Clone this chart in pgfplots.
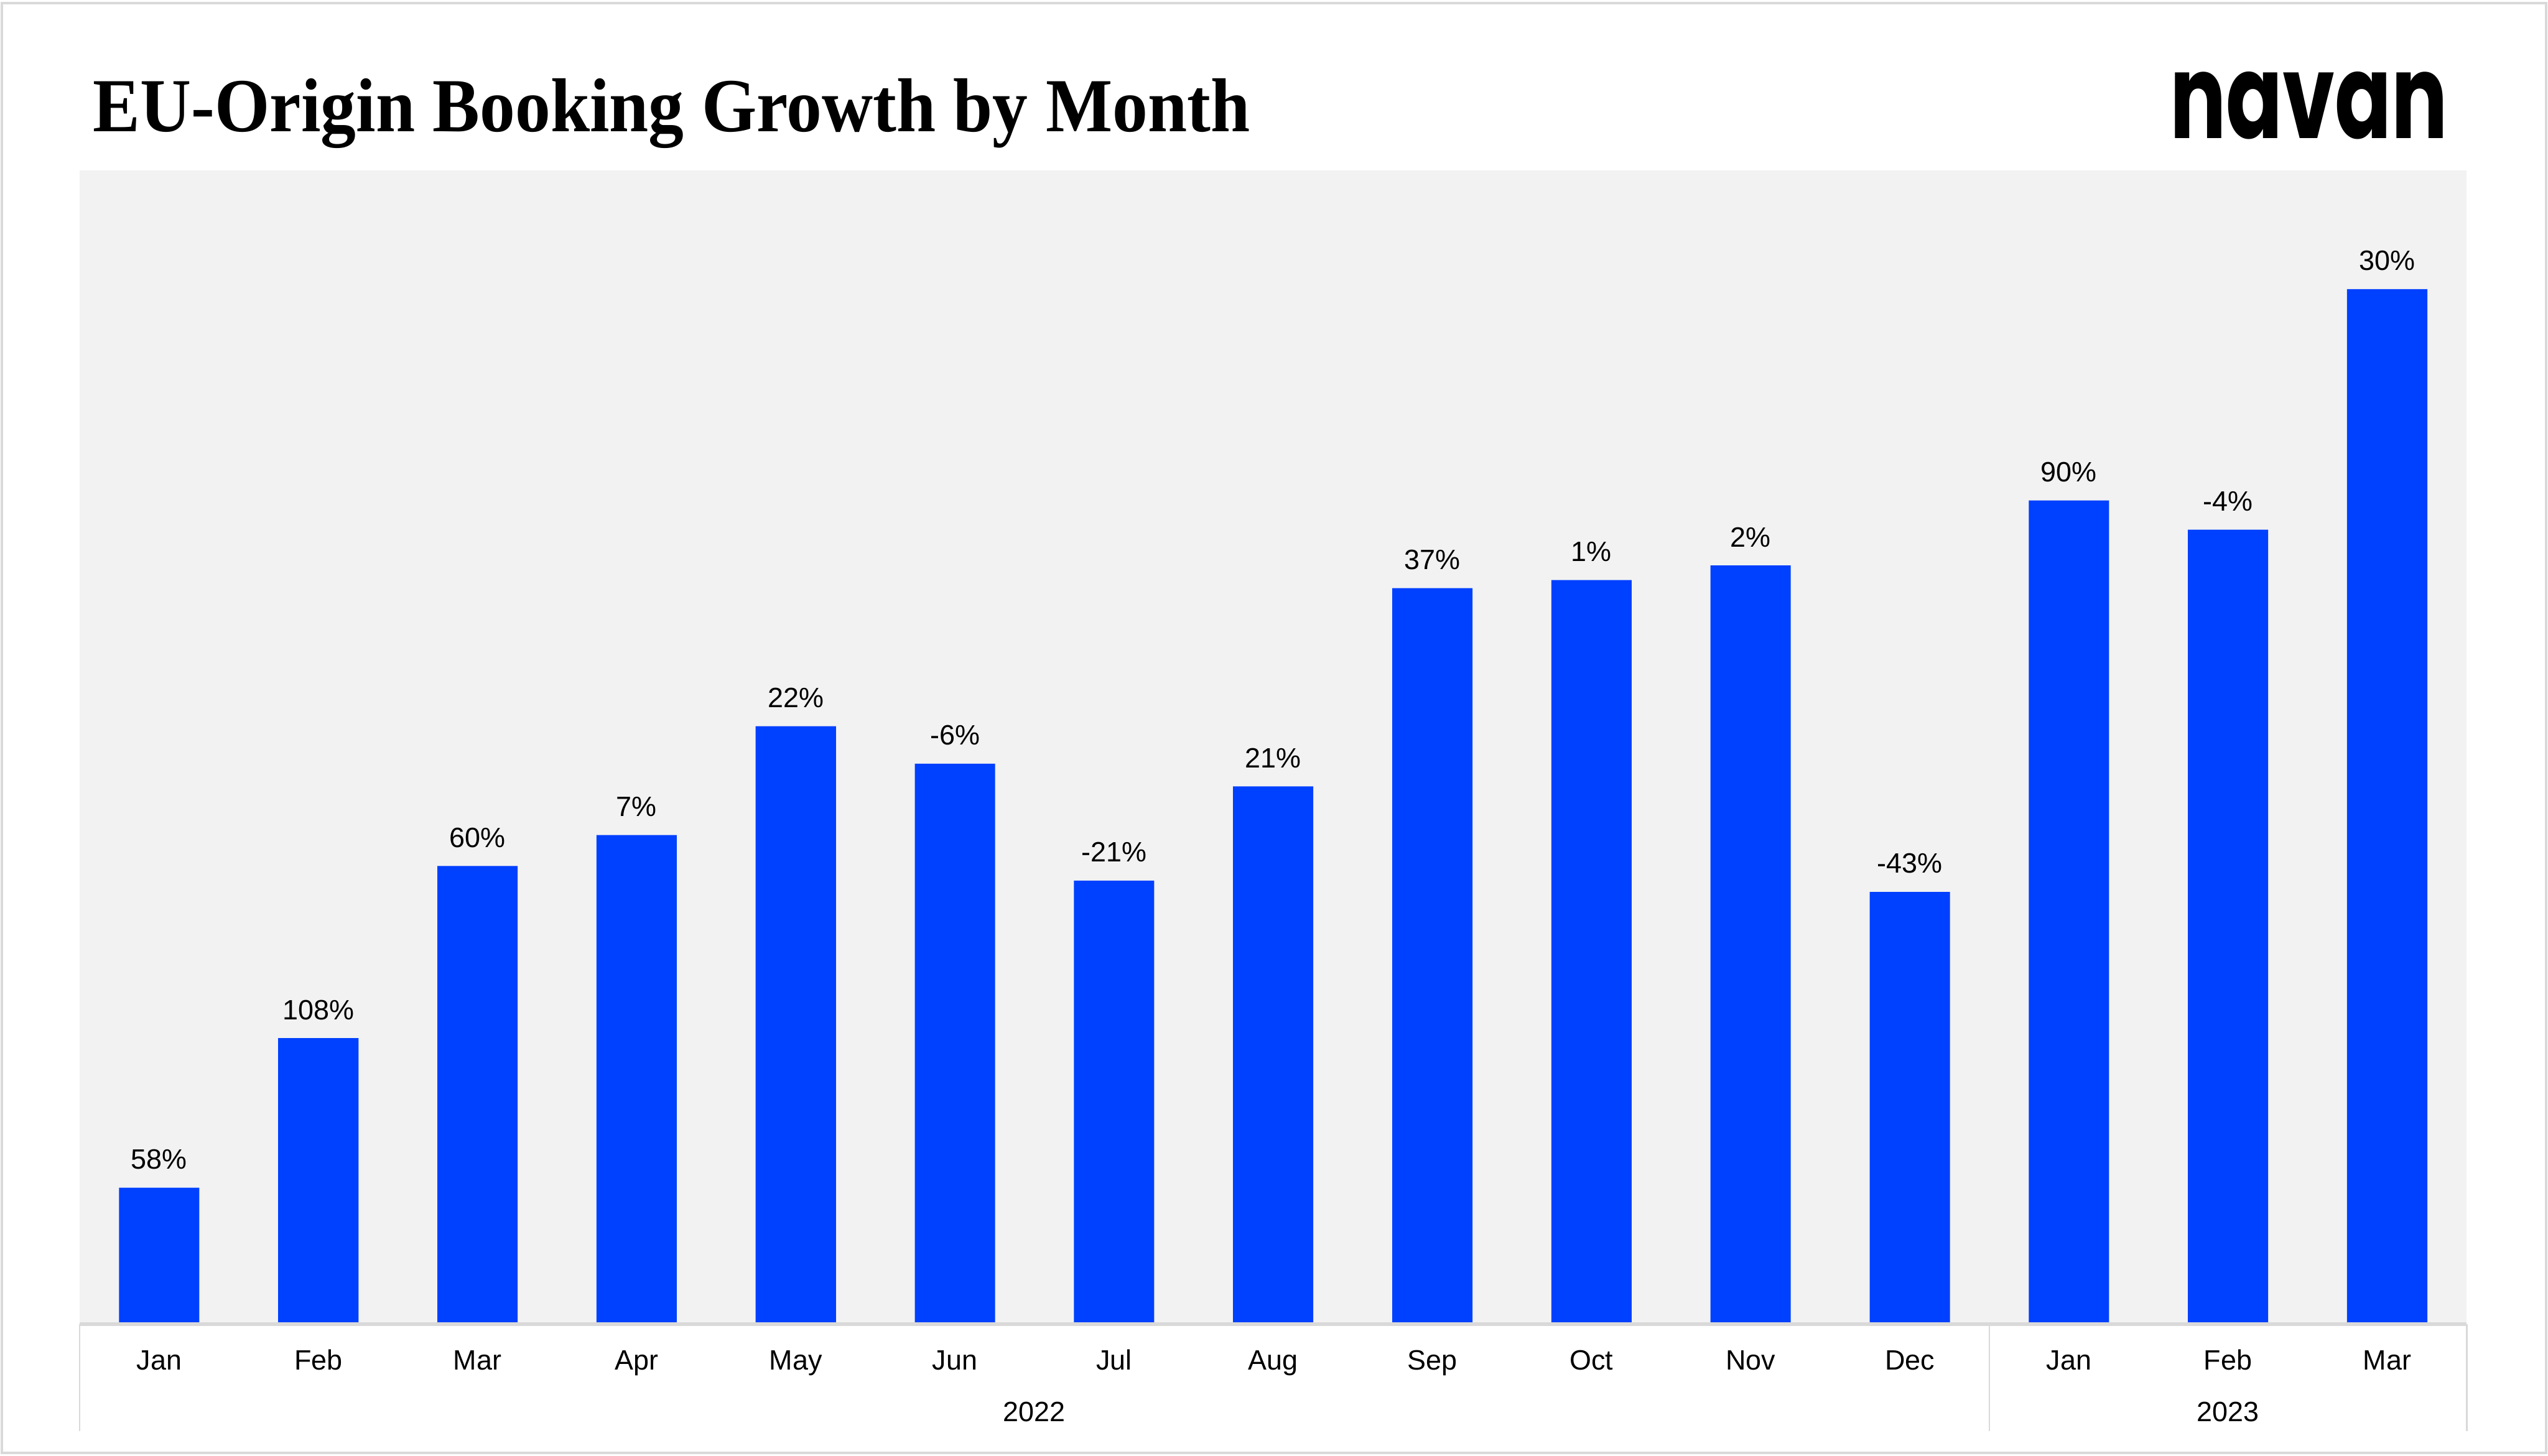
\documentclass[border=0pt]{standalone}
\usepackage{fontspec}
\setmainfont{Liberation Sans}
\newfontfamily\titlefont{Liberation Serif}
\newfontfamily\logofont{Poppins}
\usepackage{pgfplots}
\pgfplotsset{compat=1.18}

\definecolor{bggray}{HTML}{F2F2F2}
\definecolor{linegray}{HTML}{D9D9D9}
\definecolor{barblue}{HTML}{0040FF}

\begin{document}
\begin{tikzpicture}
% page frame (784pt x 448pt)
\path[use as bounding box] (0,0) rectangle (784pt,448pt);
\draw[linegray, line width=0.7pt] (0.6pt,0.9pt) rectangle (783.4pt,447pt);

% title and logo
\node[anchor=base west, inner sep=0pt] at (28.5pt,407.5pt)
  {\scalebox{0.925}[1]{\titlefont\fontsize{23.5}{26}\selectfont\bfseries EU-Origin Booking Growth by Month}};
\node[anchor=south west, inner sep=0pt] at (667.5pt,405pt)
  {\resizebox{85.5pt}{20.5pt}{\logofont\bfseries navan}};

\begin{axis}[
    at={(24.5pt,40.5pt)}, anchor=south west,
    scale only axis,
    width=734.5pt, height=355pt,
    xmin=-0.5, xmax=14.5,
    ymin=0, ymax=710,
    ybar,
    bar width=24.7pt,
    axis background/.style={fill=bggray},
    axis line style={draw=none},
    ytick=\empty,
    xtick={0,...,14},
    xticklabels={Jan,Feb,Mar,Apr,May,Jun,Jul,Aug,Sep,Oct,Nov,Dec,Jan,Feb,Mar},
    major tick length=0pt,
    xticklabel style={font=\fontsize{8.6}{10}\selectfont, anchor=base, yshift=-14pt},
    nodes near coords,
    point meta=explicit symbolic,
    every node near coord/.append style={font=\fontsize{8.6}{10}\selectfont,
      inner sep=0pt, anchor=south, yshift=5.5pt},
    clip=false,
]
\addplot[fill=barblue, draw=none] coordinates {
    (0,84)   [58\%]
    (1,176)  [108\%]
    (2,282)  [60\%]
    (3,301)  [7\%]
    (4,368)  [22\%]
    (5,345)  [-6\%]
    (6,273)  [-21\%]
    (7,331)  [21\%]
    (8,453)  [37\%]
    (9,458)  [1\%]
    (10,467) [2\%]
    (11,266) [-43\%]
    (12,507) [90\%]
    (13,489) [-4\%]
    (14,637) [30\%]
};
% baseline and group separators
\draw[linegray, line width=1pt] (axis cs:-0.5,0) -- (axis cs:14.5,0);
\draw[linegray, line width=0.5pt] (axis cs:-0.5,0) -- ++(0pt,-33pt);
\draw[linegray, line width=0.5pt] (axis cs:11.5,0) -- ++(0pt,-33pt);
\draw[linegray, line width=0.5pt] (axis cs:14.5,0) -- ++(0pt,-33pt);
% year labels
\node[anchor=base, inner sep=0pt, font=\fontsize{8.6}{10}\selectfont]
  at (axis cs:5.5,0) [yshift=-30pt] {2022};
\node[anchor=base, inner sep=0pt, font=\fontsize{8.6}{10}\selectfont]
  at (axis cs:13,0) [yshift=-30pt] {2023};
\end{axis}
\end{tikzpicture}
\end{document}
